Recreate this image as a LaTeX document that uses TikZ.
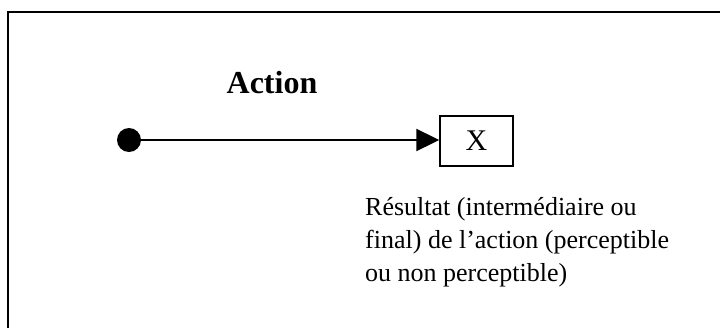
\documentclass[tikz,border=0pt]{standalone}
\usepackage{fontspec}
\setmainfont{Liberation Serif}
\usetikzlibrary{arrows.meta}
\begin{document}
\begin{tikzpicture}[x=1pt,y=-1pt,
  frameline/.style={line width=1.6pt},
  dotnode/.style={circle,fill=black,minimum size=24pt,inner sep=0pt},
  boxnode/.style={draw,line width=1.4pt,minimum width=73pt,minimum height=50pt,inner sep=0pt,font=\fontsize{30}{36}\selectfont},
  bodytext/.style={anchor=base west,inner sep=0pt,font=\fontsize{26}{33}\selectfont},
  conn/.style={line width=2pt,-{Triangle[length=23pt,width=22pt]}}]
\useasboundingbox (0,0) rectangle (720,327);
\coordinate (tl) at (8,12);
\coordinate (tr) at (721,12);
\coordinate (bl) at (8,328);
\draw[frameline] (bl) -- (tl) -- (tr);
\node[dotnode] (dot) at (129,140) {};
\node[boxnode] (x) at (476.5,141) {X};
\draw[conn] (dot.center) -- (x.west |- dot.center);
\node[anchor=base,inner sep=0pt,font=\fontsize{32}{38}\bfseries\selectfont] (action) at (272,93) {Action};
\node[bodytext] (r1) at (365,215) {Résultat (intermédiaire ou};
\node[bodytext] (r2) at (365,248) {final) de l’action (perceptible};
\node[bodytext] (r3) at (365,281) {ou non perceptible)};
\end{tikzpicture}
\end{document}
